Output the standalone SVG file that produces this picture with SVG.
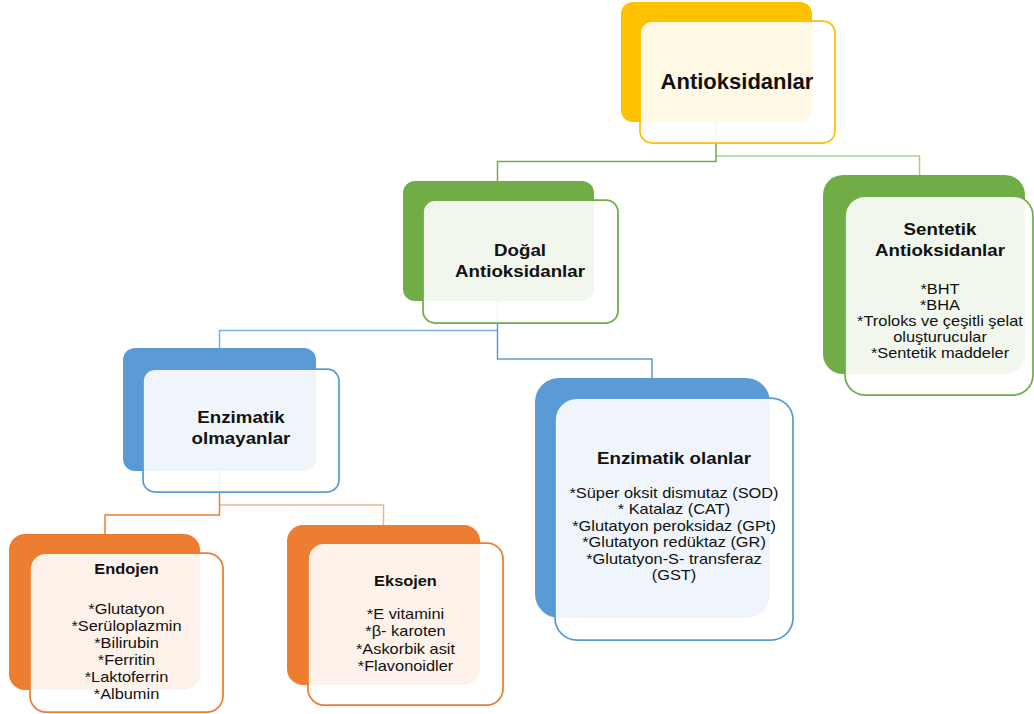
<svg xmlns="http://www.w3.org/2000/svg" width="1034" height="714" viewBox="0 0 1034 714">
<style>
.t{font-family:"Liberation Sans",Arial,sans-serif;fill:#111;text-anchor:middle}
.h{font-weight:bold;font-size:16px}
.hs{font-weight:bold;font-size:14px}
.b{font-size:14px}
.top{font-weight:bold;font-size:22px}
.front{fill:#fff;fill-opacity:0.9;stroke-width:1.75}
.c{fill:none;stroke-width:1.5}
.gold .back{fill:#FFC000}.gold .front{stroke:#FFC000}
.green .back{fill:#70AD47}.green .front{stroke:#70AD47}
.blue .back{fill:#5B9BD5}.blue .front{stroke:#5B9BD5}
.orange .back{fill:#ED7D31}.orange .front{stroke:#ED7D31}
</style>
<rect width="1034" height="714" fill="#fff"/>
<g id="connectors">
<path class="c" stroke="#70AD47" d="M716,122 V161.5 H497.5 V181"/>
<path class="c" stroke="#70AD47" stroke-opacity="0.6" d="M716,156 H919.5 V175"/>
<path class="c" stroke="#5B9BD5" d="M497.5,301 V359 H652 V378"/>
<path class="c" stroke="#5B9BD5" stroke-opacity="0.8" d="M497.5,330.5 H219.5 V348"/>
<path class="c" stroke="#ED7D31" d="M219.5,471 V515 H105 V534"/>
<path class="c" stroke="#ED7D31" stroke-opacity="0.6" d="M219.5,505 H383.5 V525"/>
</g>
<g id="antioksidanlar" class="gold">
<rect class="back" x="621" y="2" width="191" height="120" rx="12"/>
<rect class="front" x="640" y="21" width="195" height="122" rx="12"/>
<text class="t top" x="737" y="89">Antioksidanlar</text>
</g>
<g id="dogal" class="green">
<rect class="back" x="403" y="181" width="191" height="120" rx="12"/>
<rect class="front" x="423" y="200" width="195" height="123" rx="12"/>
<g transform="translate(520 0) scale(1.17 1)">
<text class="t h" x="0" y="256">Doğal</text>
<text class="t h" x="0" y="277">Antioksidanlar</text>
</g>
</g>
<g id="sentetik" class="green">
<rect class="back" x="823" y="175" width="202" height="199" rx="20"/>
<rect class="front" x="845" y="196" width="188" height="199" rx="20"/>
<g transform="translate(940 0) scale(1.17 1)">
<text class="t h" x="0" y="235">Sentetik</text>
<text class="t h" x="0" y="256">Antioksidanlar</text>
<text class="t b" x="0" y="294">*BHT</text>
<text class="t b" x="0" y="310">*BHA</text>
<text class="t b" x="0" y="326">*Troloks ve çeşitli şelat</text>
<text class="t b" x="0" y="342">oluşturucular</text>
<text class="t b" x="0" y="358">*Sentetik maddeler</text>
</g>
</g>
<g id="enzimatik-olmayanlar" class="blue">
<rect class="back" x="123" y="348" width="193" height="123" rx="12"/>
<rect class="front" x="143" y="369" width="196" height="123" rx="12"/>
<g transform="translate(241 0) scale(1.17 1)">
<text class="t h" x="0" y="423">Enzimatik</text>
<text class="t h" x="0" y="444">olmayanlar</text>
</g>
</g>
<g id="enzimatik-olanlar" class="blue">
<rect class="back" x="535" y="378" width="235" height="240" rx="24"/>
<rect class="front" x="555" y="398" width="238" height="242" rx="22"/>
<g transform="translate(674 0) scale(1.17 1)">
<text class="t h" x="0" y="464">Enzimatik olanlar</text>
<text class="t b" x="0" y="498">*Süper oksit dismutaz (SOD)</text>
<text class="t b" x="0" y="514.5">* Katalaz (CAT)</text>
<text class="t b" x="0" y="531">*Glutatyon peroksidaz (GPt)</text>
<text class="t b" x="0" y="547.5">*Glutatyon redüktaz (GR)</text>
<text class="t b" x="0" y="564">*Glutatyon-S- transferaz</text>
<text class="t b" x="0" y="580.5">(GST)</text>
</g>
</g>
<g id="endojen" class="orange">
<rect class="back" x="9" y="534" width="191" height="156" rx="16"/>
<rect class="front" x="30" y="553" width="193" height="159" rx="16"/>
<g transform="translate(126.5 0) scale(1.17 1)">
<text class="t hs" x="0" y="574">Endojen</text>
<text class="t b" x="0" y="614">*Glutatyon</text>
<text class="t b" x="0" y="631">*Serüloplazmin</text>
<text class="t b" x="0" y="648">*Bilirubin</text>
<text class="t b" x="0" y="665">*Ferritin</text>
<text class="t b" x="0" y="682">*Laktoferrin</text>
<text class="t b" x="0" y="699">*Albumin</text>
</g>
</g>
<g id="eksojen" class="orange">
<rect class="back" x="287" y="525" width="193" height="160" rx="16"/>
<rect class="front" x="308" y="543" width="195" height="162" rx="16"/>
<g transform="translate(405.5 0) scale(1.17 1)">
<text class="t hs" x="0" y="586">Eksojen</text>
<text class="t b" x="0" y="619">*E vitamini</text>
<text class="t b" x="0" y="636">*β- karoten</text>
<text class="t b" x="0" y="654">*Askorbik asit</text>
<text class="t b" x="0" y="671">*Flavonoidler</text>
</g>
</g>
</svg>
